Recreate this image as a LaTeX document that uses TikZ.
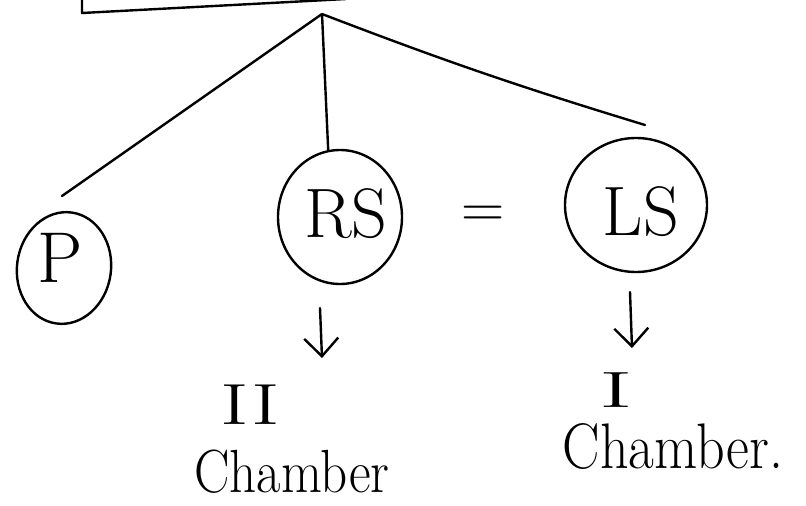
\documentclass[tikz,border=0pt]{standalone}
\usepackage{fontspec}
\usetikzlibrary{shapes.geometric,arrows.meta}
\tikzset{
  ink/.style={line width=2.4pt, black, line cap=round, line join=round},
  bubble/.style={ink, draw, ellipse, inner sep=0pt},
  downarrow/.style={ink, -{Straight Barb[length=18pt, width=34pt, line width=2.4pt]}},
  label/.style={inner sep=0pt, anchor=center}
}
\begin{document}
\begin{tikzpicture}[x=1pt, y=-1pt]
\useasboundingbox (0,0) rectangle (806,506);
% partial box at the top
\draw[ink] (82,-4) -- (82,13) -- (346,-1);
\coordinate (apex) at (322,14);
\coordinate (pend) at (62,196);
\coordinate (lend) at (645,125);
% circled nodes
\node[bubble, minimum width=94pt, minimum height=112pt, rotate=-8] (p) at (64,268) {};
\node[label] (ptext) at (60,258) {\fontsize{72}{80}\selectfont P};
\node[bubble, minimum width=124pt, minimum height=134pt] (rs) at (340,217) {};
\node[label] (rstext) at (346,214) {\fontsize{70}{80}\selectfont RS};
\node[bubble, minimum width=142pt, minimum height=134pt] (ls) at (636,205) {};
\node[label] (lstext) at (641,212) {\fontsize{70}{80}\selectfont LS};
\node[label] (eq) at (483,217) {\fontsize{60}{70}\selectfont =};
% connectors from the apex
\draw[ink] (apex) -- (pend);
\draw[ink] (apex) -- (rs.100);
\draw[ink] (apex) to[bend right=2] (lend);
% arrows down
\coordinate (rsa) at (320,308);
\coordinate (rsb) at (322,358);
\coordinate (lsa) at (630,292);
\coordinate (lsb) at (632,348);
\draw[downarrow] (rsa) -- (rsb);
\draw[downarrow] (lsa) -- (lsb);
% labels below
\node[label, xscale=1.5] (two) at (250,405) {\fontsize{58}{66}\selectfont II};
\node[label, yscale=1.15] (ch2) at (292,472) {\fontsize{53}{60}\selectfont Chamber};
\node[label, xscale=2] (one) at (616,390) {\fontsize{51}{60}\selectfont I};
\node[label, yscale=1.15] (ch1) at (673,447) {\fontsize{56}{64}\selectfont Chamber.};
\end{tikzpicture}
\end{document}
